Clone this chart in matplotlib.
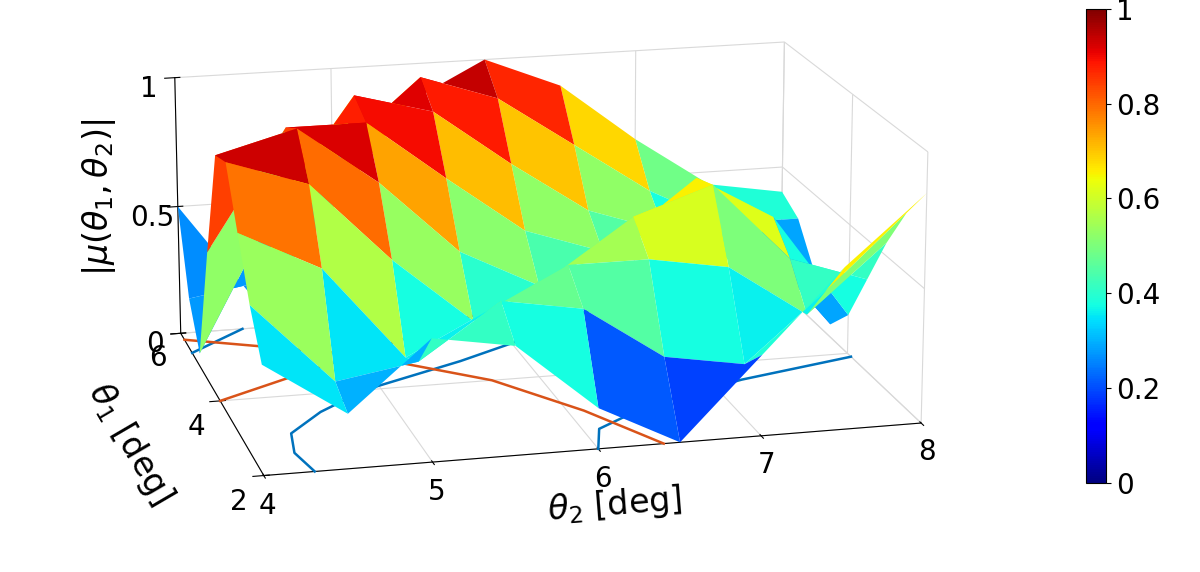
import matplotlib.pyplot as plt
import numpy as np

# grid
theta1 = [2.0, 2.5, 3.0, 3.5, 4.0, 4.5, 5.0, 5.5, 6.0]
theta2 = [4.0, 4.5, 5.0, 5.5, 6.0, 6.5, 7.0, 7.5, 8.0]
mu = [
    [0.40, 0.20, 0.45, 0.40, 0.15, 0.00, 0.30, 0.60, 0.85],
    [0.55, 0.25, 0.30, 0.50, 0.45, 0.25, 0.20, 0.45, 0.72],
    [0.75, 0.60, 0.25, 0.40, 0.55, 0.55, 0.50, 0.30, 0.55],
    [0.95, 0.85, 0.55, 0.30, 0.45, 0.65, 0.75, 0.45, 0.35],
    [0.92, 1.00, 0.78, 0.50, 0.35, 0.50, 0.72, 0.55, 0.15],
    [0.50, 0.95, 0.95, 0.72, 0.50, 0.40, 0.50, 0.40, 0.05],
    [0.05, 0.60, 1.00, 0.92, 0.70, 0.50, 0.40, 0.25, 0.20],
    [0.20, 0.25, 0.75, 1.00, 0.90, 0.70, 0.50, 0.35, 0.35],
    [0.50, 0.10, 0.45, 0.85, 1.00, 0.88, 0.65, 0.45, 0.40],
]

# floor curves (theta2, theta1)
blue1_t2 = [4.0, 4.2, 4.4]
blue1_t1 = [5.4, 5.7, 6.0]
blue2_t2 = [4.3, 4.25, 4.3, 4.55, 4.9, 5.6, 6.2, 6.8]
blue2_t1 = [2.0, 2.5, 3.0, 3.5, 4.0, 4.6, 5.2, 6.0]
blue3_t2 = [6.0, 6.1, 6.5, 7.2, 8.0]
blue3_t1 = [2.0, 2.5, 3.0, 3.5, 3.9]
orange1_t2 = [4.0, 6.0]
orange1_t1 = [4.0, 6.0]
orange2_t2 = [4.0, 5.0, 5.7, 6.1, 6.4]
orange2_t1 = [5.8, 5.0, 4.0, 3.0, 2.0]

T2, T1 = np.meshgrid(theta2, theta1)
Z = np.array(mu)

fig = plt.figure(figsize=(12, 5.72), dpi=100)
ax = fig.add_axes([-0.12, -0.17, 1.12, 1.44], projection='3d')
surf = ax.plot_surface(T2, T1, Z, cmap='jet', vmin=0, vmax=1, rstride=1, cstride=1,
                       linewidth=0, antialiased=True, shade=False)
blue = '#0072BD'
orange = '#D95319'
for xs, ys, c in [(blue1_t2, blue1_t1, blue), (blue2_t2, blue2_t1, blue),
                  (blue3_t2, blue3_t1, blue), (orange1_t2, orange1_t1, orange),
                  (orange2_t2, orange2_t1, orange)]:
    ax.plot(xs, ys, np.zeros(len(xs)), color=c, lw=1.8, zorder=0)

ax.set_xlim(4, 8)
ax.set_ylim(2, 6)
ax.set_zlim(0, 1)
ax.set_xticks([4, 5, 6, 7, 8])
ax.set_yticks([2, 4, 6])
ax.set_zticks([0, 0.5, 1])
ax.set_zticklabels(['0', '0.5', '1'])
ax.tick_params(labelsize=20)
ax.set_xlabel(r'$\theta_2$ [deg]', fontsize=24, labelpad=20)
ax.set_ylabel(r'$\theta_1$ [deg]', fontsize=24, labelpad=22)
ax.zaxis.set_rotate_label(False)
ax.set_zlabel(r'$|\mu(\theta_1,\theta_2)|$', fontsize=24, labelpad=14, rotation=90)
for a in (ax.xaxis, ax.yaxis, ax.zaxis):
    a.set_pane_color((1, 1, 1, 0))
    a._axinfo['grid']['color'] = (0.85, 0.85, 0.85, 1)
ax.set_box_aspect((2.5, 1.8, 1.05), zoom=1.0)
ax.view_init(elev=16, azim=-104)

cax = fig.add_axes([0.905, 0.155, 0.017, 0.83])
cb = fig.colorbar(surf, cax=cax, ticks=[0, 0.2, 0.4, 0.6, 0.8, 1])
cb.ax.set_yticklabels(['0', '0.2', '0.4', '0.6', '0.8', '1'])
cb.ax.tick_params(labelsize=20)

fig.savefig('out.png')
